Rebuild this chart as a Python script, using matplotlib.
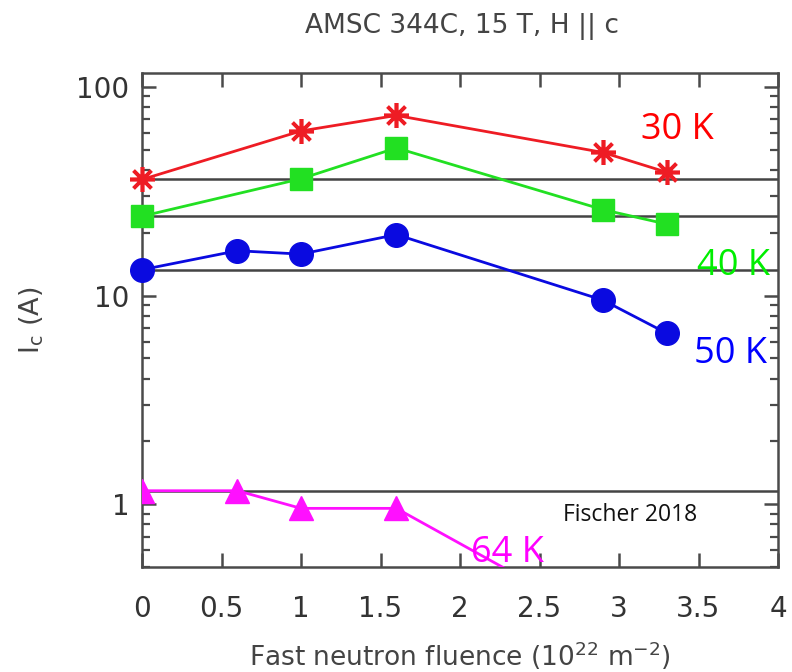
import matplotlib
matplotlib.use("Agg")
import matplotlib.pyplot as plt
from matplotlib.ticker import LogLocator, FixedLocator, NullFormatter, FixedFormatter

# ---- data ----
x30 = [0, 1, 1.6, 2.9, 3.3]
y30 = [36, 61.5, 73, 48.5, 39]
x40 = [0, 1, 1.6, 2.9, 3.3]
y40 = [24, 36.3, 51, 25.8, 22]
x50 = [0, 0.6, 1, 1.6, 2.9, 3.3]
y50 = [13.3, 16.4, 15.8, 19.6, 9.5, 6.6]
x64 = [0, 0.6, 1, 1.6, 2.9]
y64 = [1.16, 1.16, 0.955, 0.955, 0.27]
baselines = [36, 24, 13.3, 1.16]

xticks = [0, 0.5, 1, 1.5, 2, 2.5, 3, 3.5, 4]
xticklabels = ["0", "0.5", "1", "1.5", "2", "2.5", "3", "3.5", "4"]
yticks = [1, 10, 100]
yticklabels = ["1", "10", "100"]

title = "AMSC 344C, 15 T, H || c"
xlabel = "Fast neutron fluence (10$^{22}$ m$^{-2}$)"
ylabel = "I$_\\mathrm{c}$ (A)"

gray = "#4a4a4a"

fig = plt.figure(figsize=(7.92, 6.72), dpi=100)
ax = fig.add_axes([142/792, 1 - 567/672, (778-142)/792, (567-72.7)/672])
ax.set_yscale("log")
ax.set_xlim(0, 4)
ax.set_ylim(0.5, 117)

for b in baselines:
    ax.axhline(b, color="#444444", lw=1.8, zorder=1)

ax.plot(x30, y30, color="#ee1c24", lw=2.0, marker=(8, 2, 0), ms=18, mew=2.6, zorder=3, clip_on=False)
ax.plot(x40, y40, color="#22e022", lw=2.0, marker="s", ms=16, zorder=3, clip_on=False)
ax.plot(x50, y50, color="#0a0ae0", lw=2.0, marker="o", ms=17, zorder=3, clip_on=False)
ax.plot(x64, y64, color="#ff10ff", lw=2.0, marker="^", ms=17, zorder=3, clip_on=True)

lab_font = "Open Sans"
ax.text(3.37, 62.3, "30 K", color="#ff0000", fontsize=26, family=lab_font, ha="center", va="center", clip_on=False)
ax.text(3.72, 13.9, "40 K", color="#00ee00", fontsize=26, family=lab_font, ha="center", va="center", clip_on=False, zorder=5)
ax.text(3.70, 5.25, "50 K", color="#0000ff", fontsize=26, family=lab_font, ha="center", va="center", clip_on=False)
ax.text(2.30, 0.585, "64 K", color="#ff00ff", fontsize=26, family=lab_font, ha="center", va="center", clip_on=False, zorder=5)
ax.text(3.07, 0.886, "Fischer 2018", color="#111111", fontsize=16.5, family=lab_font, ha="center", va="center")

ax.set_xticks(xticks)
ax.set_xticklabels(xticklabels)
ax.yaxis.set_major_locator(FixedLocator(yticks))
ax.yaxis.set_major_formatter(FixedFormatter(yticklabels))
ax.yaxis.set_minor_locator(LogLocator(base=10, subs=range(2, 10)))
ax.yaxis.set_minor_formatter(NullFormatter())

ax.tick_params(axis="both", which="major", direction="in", length=10, width=1.8, color=gray,
               labelsize=20, labelcolor="#333333", top=True, right=True)
ax.tick_params(axis="y", which="major", pad=9)
ax.tick_params(axis="y", which="minor", direction="in", length=6, width=1.6, color=gray, right=True)
ax.tick_params(axis="x", which="major", pad=20)

for s in ax.spines.values():
    s.set_color(gray)
    s.set_linewidth(1.8)

fig.text(462/792, 1 - 26/672, title, ha="center", va="center", fontsize=19, color="#444444")
ax.set_xlabel(xlabel, fontsize=19, color="#444444", labelpad=12)
ax.set_ylabel(ylabel, fontsize=19.5, color="#444444", labelpad=22)

fig.savefig("out.png", dpi=100)
